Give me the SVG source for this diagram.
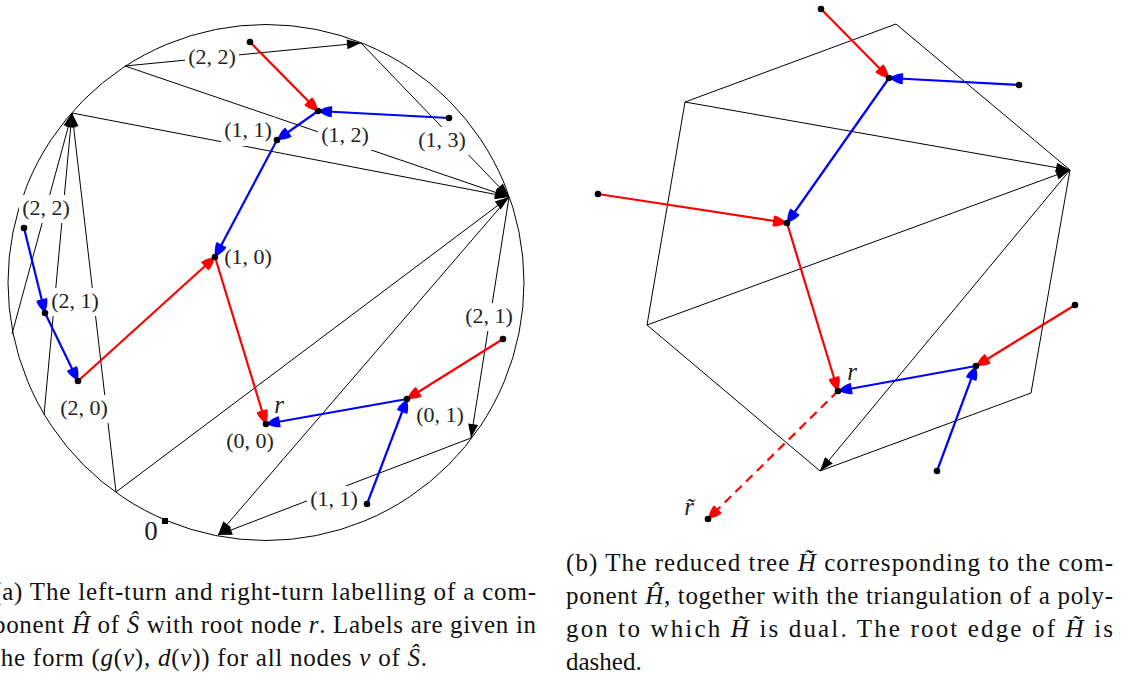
<svg xmlns="http://www.w3.org/2000/svg" width="1127" height="677" viewBox="0 0 1127 677">
<style>
.k{stroke:#000;stroke-width:1;fill:none}
.ka{stroke:#000;stroke-width:1;fill:none;marker-end:url(#ak)}
.re{stroke:#f00;stroke-width:2.2;fill:none;marker-end:url(#ar)}
.bl{stroke:#00f;stroke-width:2.2;fill:none;marker-end:url(#ab)}
.dash{stroke-dasharray:9,6}
.dot{fill:#000}
.lb{font-family:"Liberation Serif",serif;font-size:22px;fill:#222;text-anchor:middle}
.big{font-size:25px}
.zero{font-size:27px}
.bg{fill:#fff}
.cap{font-family:"Liberation Serif",serif;font-size:25px;fill:#111}
.it{font-style:italic}
</style>
<defs>
<marker id="ak" viewBox="-15 -6 16 12" refX="0" refY="0" markerWidth="16" markerHeight="12" markerUnits="userSpaceOnUse" orient="auto"><path d="M0,0 L-14,-5 L-14,5 Z" fill="#000"/></marker>
<marker id="ar" viewBox="-15 -7 16 14" refX="0" refY="0" markerWidth="16" markerHeight="14" markerUnits="userSpaceOnUse" orient="auto"><path d="M0,0 C-4,-2.5 -9,-5.5 -14,-5.5 L-14,5.5 C-9,5.5 -4,2.5 0,0 Z" fill="#f00"/></marker>
<marker id="ab" viewBox="-15 -7 16 14" refX="0" refY="0" markerWidth="16" markerHeight="14" markerUnits="userSpaceOnUse" orient="auto"><path d="M0,0 C-4,-2.5 -9,-5.5 -14,-5.5 L-14,5.5 C-9,5.5 -4,2.5 0,0 Z" fill="#00f"/></marker>
</defs>
<rect width="1127" height="677" fill="#fff"/>

<!-- (a) polygon / circle -->
<g id="circle-a">
<circle cx="266" cy="282.5" r="258" class="k"/>
<rect x="162" y="518" width="6" height="6" fill="#000"/>
</g>
<g id="chords-a">
<path class="ka" d="M125,66 L361,43"/>
<path class="ka" d="M125,66 L509,197"/>
<path class="ka" d="M361,43 L509,197"/>
<path class="ka" d="M72,113 L509,197"/>
<path class="ka" d="M12,334 L72,113"/>
<path class="ka" d="M44,415 L72,113"/>
<path class="ka" d="M116,492 L72,113"/>
<path class="ka" d="M116,492 L509,197"/>
<path class="ka" d="M509,197 L218,535"/>
<path class="ka" d="M509,197 L471,438"/>
<path class="ka" d="M471,438 L218,535"/>
</g>

<!-- (b) polygon -->
<g id="polygon-b">
<path class="k" d="M685,102 L896,24 L1070,170"/>
<path class="k" d="M685,102 L647,325 L820,471 L1031,393 L1070,170"/>
<path class="ka" d="M685,102 L1070,170"/>
<path class="ka" d="M647,325 L1070,170"/>
<path class="ka" d="M1070,170 L820,471"/>
</g>

<!-- labels of (a) -->
<g id="labels-a">
<rect class="bg" x="185" y="44" width="54" height="28"/><text class="lb" x="212" y="64">(2, 2)</text>
<rect class="bg" x="221" y="117" width="54" height="29"/><text class="lb" x="248" y="137">(1, 1)</text>
<rect class="bg" x="318" y="122" width="54" height="28"/><text class="lb" x="345" y="142">(1, 2)</text>
<rect class="bg" x="415" y="127" width="54" height="28"/><text class="lb" x="442" y="147">(1, 3)</text>
<rect class="bg" x="19" y="195" width="54" height="28"/><text class="lb" x="46" y="215">(2, 2)</text>
<rect class="bg" x="221" y="244" width="54" height="28"/><text class="lb" x="248" y="264">(1, 0)</text>
<rect class="bg" x="49" y="288" width="52" height="28"/><text class="lb" x="75" y="308">(2, 1)</text>
<rect class="bg" x="59" y="395" width="50" height="28"/><text class="lb" x="84" y="415">(2, 0)</text>
<rect class="bg" x="462" y="303" width="54" height="28"/><text class="lb" x="489" y="323">(2, 1)</text>
<rect class="bg" x="413" y="402" width="54" height="28"/><text class="lb" x="440" y="422">(0, 1)</text>
<rect class="bg" x="223" y="428" width="55" height="28"/><text class="lb" x="250" y="448">(0, 0)</text>
<rect class="bg" x="307" y="486" width="54" height="28"/><text class="lb" x="334" y="506">(1, 1)</text>
<text class="lb it big" x="279" y="413">r</text>
<text class="lb zero" x="151" y="540">0</text>
</g>

<g id="tree-edges">
<!-- (a) -->
<path class="re" d="M250,42 L318,111"/>
<path class="bl" d="M449,118 L318,111"/>
<path class="bl" d="M318,111 L277,140"/>
<path class="bl" d="M277,140 L215,257"/>
<path class="re" d="M78,381 L215,257"/>
<path class="re" d="M215,257 L266,424"/>
<path class="bl" d="M24,228 L45,313"/>
<path class="bl" d="M45,313 L78,381"/>
<path class="bl" d="M407,399 L266,424"/>
<path class="re" d="M503,339 L407,399"/>
<path class="bl" d="M367,504 L407,399"/>
<!-- (b) -->
<path class="re" d="M821,9 L889,78"/>
<path class="bl" d="M1019,85 L889,78"/>
<path class="bl" d="M889,78 L787,223"/>
<path class="re" d="M598,194 L787,223"/>
<path class="re" d="M787,223 L838,391"/>
<path class="bl" d="M976,366 L838,391"/>
<path class="re" d="M1075,305 L976,366"/>
<path class="bl" d="M937,471 L976,366"/>
<path class="re dash" d="M838,391 L708,519"/>
</g>

<g id="nodes-a">
<g id="a-n22top"><circle class="dot" cx="250" cy="42" r="3.3"/></g>
<g id="a-n12"><circle class="dot" cx="318" cy="111" r="3.3"/></g>
<g id="a-n13"><circle class="dot" cx="449" cy="118" r="3.3"/></g>
<g id="a-n11top"><circle class="dot" cx="277" cy="140" r="3.3"/></g>
<g id="a-n10"><circle class="dot" cx="215" cy="257" r="3.3"/></g>
<g id="a-n22left"><circle class="dot" cx="24" cy="228" r="3.3"/></g>
<g id="a-n21left"><circle class="dot" cx="45" cy="313" r="3.3"/></g>
<g id="a-n20"><circle class="dot" cx="78" cy="381" r="3.3"/></g>
<g id="a-root"><circle class="dot" cx="266" cy="424" r="3.3"/></g>
<g id="a-n01"><circle class="dot" cx="407" cy="399" r="3.3"/></g>
<g id="a-n21right"><circle class="dot" cx="503" cy="339" r="3.3"/></g>
<g id="a-n11bottom"><circle class="dot" cx="367" cy="504" r="3.3"/></g>
</g>

<g id="nodes-b">
<g id="b-top"><circle class="dot" cx="821" cy="9" r="3.3"/></g>
<g id="b-m1"><circle class="dot" cx="889" cy="78" r="3.3"/></g>
<g id="b-right"><circle class="dot" cx="1019" cy="85" r="3.3"/></g>
<g id="b-m2"><circle class="dot" cx="787" cy="223" r="3.3"/></g>
<g id="b-left"><circle class="dot" cx="598" cy="194" r="3.3"/></g>
<g id="b-root"><circle class="dot" cx="838" cy="391" r="3.3"/><text class="lb it big" x="852" y="380">r</text></g>
<g id="b-m3"><circle class="dot" cx="976" cy="366" r="3.3"/></g>
<g id="b-r2"><circle class="dot" cx="1075" cy="305" r="3.3"/></g>
<g id="b-bottom"><circle class="dot" cx="937" cy="471" r="3.3"/></g>
<g id="b-rtilde"><circle class="dot" cx="708" cy="519" r="3.3"/><text class="lb it big" x="689" y="515">r&#x303;</text></g>
</g>

<g id="caption-a">
<text class="cap" x="-7" y="600" textLength="543" lengthAdjust="spacing">(a) The left-turn and right-turn labelling of a com-</text>
<text class="cap" x="-7" y="633" textLength="543" lengthAdjust="spacing">ponent <tspan class="it">&#x124;</tspan> of <tspan class="it">&#x15C;</tspan> with root node <tspan class="it">r</tspan>. Labels are given in</text>
<text class="cap" x="-7" y="666" textLength="434" lengthAdjust="spacing">the form (<tspan class="it">g</tspan>(<tspan class="it">v</tspan>), <tspan class="it">d</tspan>(<tspan class="it">v</tspan>)) for all nodes <tspan class="it">v</tspan> of <tspan class="it">&#x15C;</tspan>.</text>
</g>

<g id="caption-b">
<text class="cap" x="566" y="571" textLength="547" lengthAdjust="spacing">(b) The reduced tree <tspan class="it">H&#x303;</tspan> corresponding to the com-</text>
<text class="cap" x="566" y="604" textLength="547" lengthAdjust="spacing">ponent <tspan class="it">&#x124;</tspan>, together with the triangulation of a poly-</text>
<text class="cap" x="566" y="637" textLength="547" lengthAdjust="spacing">gon to which <tspan class="it">H&#x303;</tspan> is dual.  The root edge of <tspan class="it">H&#x303;</tspan> is</text>
<text class="cap" x="566" y="670">dashed.</text>
</g>
</svg>
